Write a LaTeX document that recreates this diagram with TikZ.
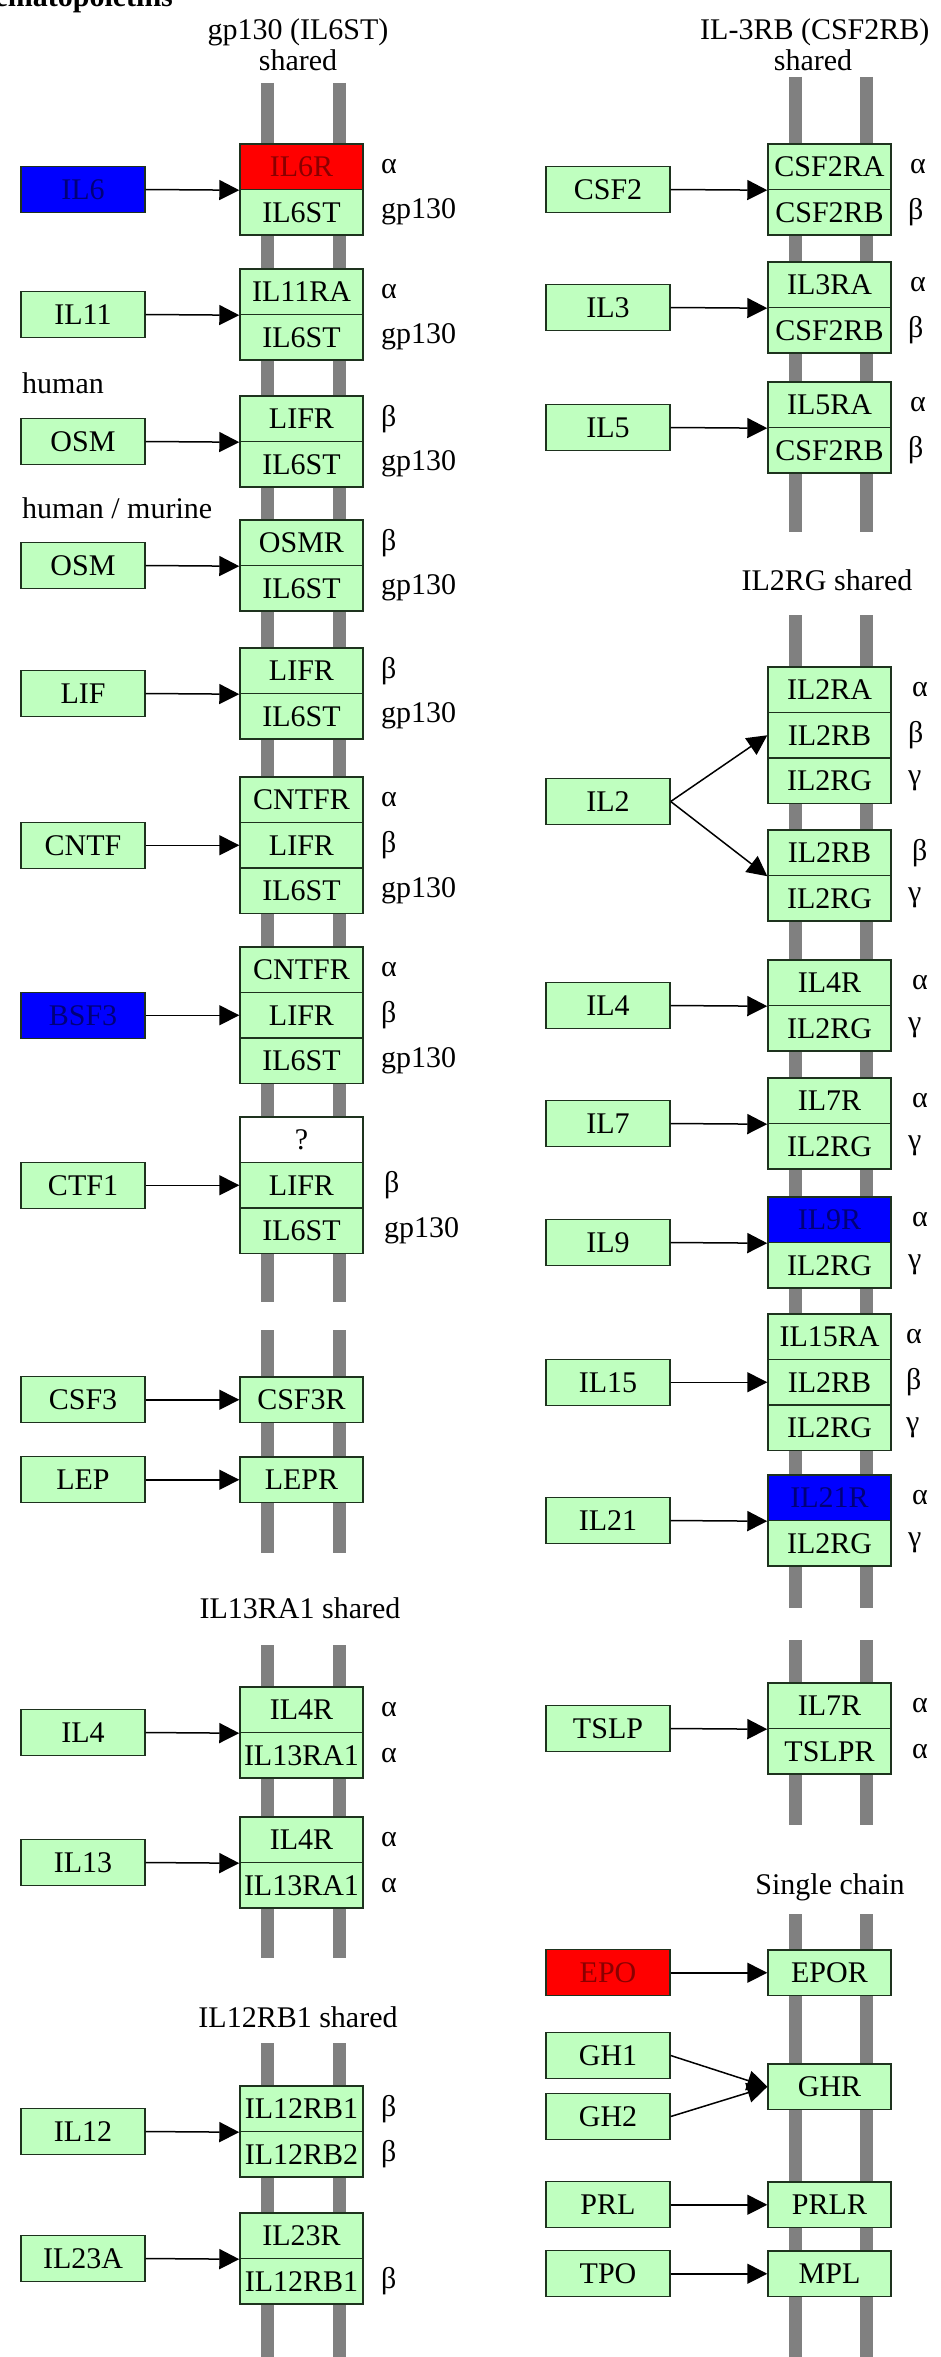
\documentclass[tikz,border=0pt]{standalone}
\usepackage{fontspec}
\setmainfont{Liberation Serif}
\usetikzlibrary{arrows.meta}
\definecolor{kgreen}{HTML}{BFFFBF}
\definecolor{kborder}{HTML}{1E321E}
\definecolor{kred}{HTML}{FF0000}
\definecolor{kredtxt}{HTML}{8A0000}
\definecolor{kblue}{HTML}{0000FF}
\definecolor{kbluetxt}{HTML}{00007A}
\definecolor{kbar}{HTML}{808080}
\begin{document}
\begin{tikzpicture}[x=1pt,y=-1pt,
  box/.style={draw=kborder, line width=1.4pt, fill=kgreen, minimum width=123pt, minimum height=45.5pt, inner sep=0pt, font=\fontsize{30}{30}\selectfont, text=black},
  lig/.style={box, minimum width=124pt, minimum height=46pt},
  redbox/.style={fill=kred, text=kredtxt},
  bluebox/.style={fill=kblue, text=kbluetxt},
  whitebox/.style={fill=white},
  glab/.style={anchor=west, inner sep=0pt, font=\fontsize{30}{30}\selectfont},
  sec/.style={inner sep=0pt, font=\fontsize{30}{30}\selectfont},
  bar/.style={draw=kbar, line width=13pt},
  arr/.style={line width=1.5pt, -{Triangle[length=20pt,width=20pt]}},
]
\useasboundingbox (0,0) rectangle (940,2357);
\fill[white] (0,0) rectangle (940,2357);
\begin{scope}
\clip (0,0) rectangle (940,2357);
\node[anchor=base west, inner sep=0pt, font=\fontsize{30}{30}\selectfont\bfseries] (title) at (-29,7) {Hematopoietins};
\end{scope}

% gray bars
\coordinate (lb1) at (267.5,83);  \coordinate (lb1e) at (267.5,1302);
\coordinate (lb2) at (267.5,1330); \coordinate (lb2e) at (267.5,1553);
\coordinate (lb3) at (267.5,1645); \coordinate (lb3e) at (267.5,1958);
\coordinate (lb4) at (267.5,2043); \coordinate (lb4e) at (267.5,2357);
\coordinate (lc1) at (339.5,83);  \coordinate (lc1e) at (339.5,1302);
\coordinate (lc2) at (339.5,1330); \coordinate (lc2e) at (339.5,1553);
\coordinate (lc3) at (339.5,1645); \coordinate (lc3e) at (339.5,1958);
\coordinate (lc4) at (339.5,2043); \coordinate (lc4e) at (339.5,2357);
\coordinate (rb1) at (795,77);  \coordinate (rb1e) at (795,532);
\coordinate (rb2) at (795,615); \coordinate (rb2e) at (795,1608);
\coordinate (rb3) at (795,1640); \coordinate (rb3e) at (795,1825);
\coordinate (rb4) at (795,1914); \coordinate (rb4e) at (795,2357);
\coordinate (rc1) at (866.5,77);  \coordinate (rc1e) at (866.5,532);
\coordinate (rc2) at (866.5,615); \coordinate (rc2e) at (866.5,1608);
\coordinate (rc3) at (866.5,1640); \coordinate (rc3e) at (866.5,1825);
\coordinate (rc4) at (866.5,1914); \coordinate (rc4e) at (866.5,2357);
\foreach \a in {lb,lc,rb,rc}{\foreach \i in {1,2,3,4}{\draw[bar] (\a\i) -- (\a\i e);}}

% section labels
\node[sec] (s1) at (298,32) {gp130 (IL6ST)};
\node[sec] (s1b) at (298,60) {shared};
\node[sec,anchor=west] (s2) at (700,32) {IL-3RB (CSF2RB)};
\node[sec] (s2b) at (813,60) {shared};
\node[sec,anchor=west] (hum) at (22,383) {human};
\node[sec,anchor=west] (hummur) at (22,508) {human / murine};
\node[sec] (s3) at (827,580) {IL2RG shared};
\node[sec] (s4) at (300,1608) {IL13RA1 shared};
\node[sec] (s5) at (298,2017) {IL12RB1 shared};
\node[sec] (s6) at (830,1887) {Single chain};

% ---------- left column receptors ----------
\node[box,redbox] (L1a) at (301.5,166.75) {IL6R};
\node[box] (L1b) at (301.5,212.25) {IL6ST};
\node[box] (L2a) at (301.5,291.75) {IL11RA};
\node[box] (L2b) at (301.5,337.25) {IL6ST};
\node[box] (L3a) at (301.5,418.75) {LIFR};
\node[box] (L3b) at (301.5,464.25) {IL6ST};
\node[box] (L4a) at (301.5,542.75) {OSMR};
\node[box] (L4b) at (301.5,588.25) {IL6ST};
\node[box] (L5a) at (301.5,670.75) {LIFR};
\node[box] (L5b) at (301.5,716.25) {IL6ST};
\node[box] (L6a) at (301.5,799.75) {CNTFR};
\node[box] (L6b) at (301.5,845.25) {LIFR};
\node[box] (L6c) at (301.5,890.75) {IL6ST};
\node[box] (L7a) at (301.5,969.75) {CNTFR};
\node[box] (L7b) at (301.5,1015.25) {LIFR};
\node[box] (L7c) at (301.5,1060.75) {IL6ST};
\node[box,whitebox] (L8a) at (301.5,1139.75) {?};
\node[box] (L8b) at (301.5,1185.25) {LIFR};
\node[box] (L8c) at (301.5,1230.75) {IL6ST};
\node[box] (L9) at (301.5,1399.75) {CSF3R};
\node[box] (L10) at (301.5,1479.75) {LEPR};
\node[box] (L11a) at (301.5,1709.75) {IL4R};
\node[box] (L11b) at (301.5,1755.25) {IL13RA1};
\node[box] (L12a) at (301.5,1839.75) {IL4R};
\node[box] (L12b) at (301.5,1885.25) {IL13RA1};
\node[box] (L13a) at (301.5,2108.75) {IL12RB1};
\node[box] (L13b) at (301.5,2154.25) {IL12RB2};
\node[box] (L14a) at (301.5,2235.75) {IL23R};
\node[box] (L14b) at (301.5,2281.25) {IL12RB1};

% left greek labels
\node[glab] (gL1a) at (381,166.75) {α};
\node[glab] (gL1b) at (381,212.25) {gp130};
\node[glab] (gL2a) at (381,291.75) {α};
\node[glab] (gL2b) at (381,337.25) {gp130};
\node[glab] (gL3a) at (381,418.75) {β};
\node[glab] (gL3b) at (381,464.25) {gp130};
\node[glab] (gL4a) at (381,542.75) {β};
\node[glab] (gL4b) at (381,588.25) {gp130};
\node[glab] (gL5a) at (381,670.75) {β};
\node[glab] (gL5b) at (381,716.25) {gp130};
\node[glab] (gL6a) at (381,799.75) {α};
\node[glab] (gL6b) at (381,845.25) {β};
\node[glab] (gL6c) at (381,890.75) {gp130};
\node[glab] (gL7a) at (381,969.75) {α};
\node[glab] (gL7b) at (381,1015.25) {β};
\node[glab] (gL7c) at (381,1060.75) {gp130};
\node[glab] (gL8b) at (384,1185.25) {β};
\node[glab] (gL8c) at (384,1230.75) {gp130};
\node[glab] (gL11a) at (381,1709.75) {α};
\node[glab] (gL11b) at (381,1755.25) {α};
\node[glab] (gL12a) at (381,1839.75) {α};
\node[glab] (gL12b) at (381,1885.25) {α};
\node[glab] (gL13a) at (381,2108.75) {β};
\node[glab] (gL13b) at (381,2154.25) {β};
\node[glab] (gL14b) at (381,2281.25) {β};

% left ligands
\node[lig,bluebox] (IL6) at (83,189.5) {IL6};
\node[lig] (IL11) at (83,314.5) {IL11};
\node[lig] (OSMa) at (83,441.5) {OSM};
\node[lig] (OSMb) at (83,565.5) {OSM};
\node[lig] (LIF) at (83,693.5) {LIF};
\node[lig] (CNTF) at (83,845.25) {CNTF};
\node[lig,bluebox] (BSF3) at (83,1015.25) {BSF3};
\node[lig] (CTF1) at (83,1185.25) {CTF1};
\node[lig] (CSF3) at (83,1399.75) {CSF3};
\node[lig] (LEP) at (83,1479.75) {LEP};
\node[lig] (IL4a) at (83,1732.5) {IL4};
\node[lig] (IL13) at (83,1862.5) {IL13};
\node[lig] (IL12) at (83,2131.5) {IL12};
\node[lig] (IL23A) at (83,2258.5) {IL23A};

% left arrows
\draw[arr] (IL6.east) -- (L1a.south west);
\draw[arr] (IL11.east) -- (L2a.south west);
\draw[arr] (OSMa.east) -- (L3a.south west);
\draw[arr] (OSMb.east) -- (L4a.south west);
\draw[arr] (LIF.east) -- (L5a.south west);
\draw[arr] (CNTF.east) -- (L6b.west);
\draw[arr] (BSF3.east) -- (L7b.west);
\draw[arr] (CTF1.east) -- (L8b.west);
\draw[arr] (CSF3.east) -- (L9.west);
\draw[arr] (LEP.east) -- (L10.west);
\draw[arr] (IL4a.east) -- (L11a.south west);
\draw[arr] (IL13.east) -- (L12a.south west);
\draw[arr] (IL12.east) -- (L13a.south west);
\draw[arr] (IL23A.east) -- (L14a.south west);

% ---------- right column receptors ----------
\node[box] (R1a) at (829.5,166.75) {CSF2RA};
\node[box] (R1b) at (829.5,212.25) {CSF2RB};
\node[box] (R2a) at (829.5,284.75) {IL3RA};
\node[box] (R2b) at (829.5,330.25) {CSF2RB};
\node[box] (R3a) at (829.5,404.75) {IL5RA};
\node[box] (R3b) at (829.5,450.25) {CSF2RB};
\node[box] (R4a) at (829.5,689.75) {IL2RA};
\node[box] (R4b) at (829.5,735.25) {IL2RB};
\node[box] (R4c) at (829.5,780.75) {IL2RG};
\node[box] (R5a) at (829.5,852.75) {IL2RB};
\node[box] (R5b) at (829.5,898.25) {IL2RG};
\node[box] (R6a) at (829.5,982.75) {IL4R};
\node[box] (R6b) at (829.5,1028.25) {IL2RG};
\node[box] (R7a) at (829.5,1100.75) {IL7R};
\node[box] (R7b) at (829.5,1146.25) {IL2RG};
\node[box,bluebox] (R8a) at (829.5,1219.75) {IL9R};
\node[box] (R8b) at (829.5,1265.25) {IL2RG};
\node[box] (R9a) at (829.5,1336.75) {IL15RA};
\node[box] (R9b) at (829.5,1382.25) {IL2RB};
\node[box] (R9c) at (829.5,1427.75) {IL2RG};
\node[box,bluebox] (R10a) at (829.5,1497.75) {IL21R};
\node[box] (R10b) at (829.5,1543.25) {IL2RG};
\node[box] (R11a) at (829.5,1705.75) {IL7R};
\node[box] (R11b) at (829.5,1751.25) {TSLPR};
\node[box] (R12) at (829.5,1972.75) {EPOR};
\node[box] (R13) at (829.5,2086.75) {GHR};
\node[box] (R14) at (829.5,2204.75) {PRLR};
\node[box] (R15) at (829.5,2273.75) {MPL};

% right greek labels
\node[glab] (gR1a) at (910,166.75) {α};
\node[glab] (gR1b) at (908,212.25) {β};
\node[glab] (gR2a) at (910,284.75) {α};
\node[glab] (gR2b) at (908,330.25) {β};
\node[glab] (gR3a) at (910,404.75) {α};
\node[glab] (gR3b) at (908,450.25) {β};
\node[glab] (gR4a) at (912,689.75) {α};
\node[glab] (gR4b) at (908,735.25) {β};
\node[glab] (gR4c) at (908,780.75) {γ};
\node[glab] (gR5a) at (912,852.75) {β};
\node[glab] (gR5b) at (908,898.25) {γ};
\node[glab] (gR6a) at (912,982.75) {α};
\node[glab] (gR6b) at (908,1028.25) {γ};
\node[glab] (gR7a) at (912,1100.75) {α};
\node[glab] (gR7b) at (908,1146.25) {γ};
\node[glab] (gR8a) at (912,1219.75) {α};
\node[glab] (gR8b) at (908,1265.25) {γ};
\node[glab] (gR9a) at (906,1336.75) {α};
\node[glab] (gR9b) at (906,1382.25) {β};
\node[glab] (gR9c) at (906,1427.75) {γ};
\node[glab] (gR10a) at (912,1497.75) {α};
\node[glab] (gR10b) at (908,1543.25) {γ};
\node[glab] (gR11a) at (912,1705.75) {α};
\node[glab] (gR11b) at (912,1751.25) {α};

% right ligands
\node[lig] (CSF2) at (608,189.5) {CSF2};
\node[lig] (IL3) at (608,307.5) {IL3};
\node[lig] (IL5) at (608,427.5) {IL5};
\node[lig] (IL2) at (608,801.5) {IL2};
\node[lig] (IL4b) at (608,1005.5) {IL4};
\node[lig] (IL7) at (608,1123.5) {IL7};
\node[lig] (IL9) at (608,1242.5) {IL9};
\node[lig] (IL15) at (608,1382.25) {IL15};
\node[lig] (IL21) at (608,1520.5) {IL21};
\node[lig] (TSLP) at (608,1728.5) {TSLP};
\node[lig,redbox] (EPO) at (608,1972.75) {EPO};
\node[lig] (GH1) at (608,2055.5) {GH1};
\node[lig] (GH2) at (608,2116.5) {GH2};
\node[lig] (PRL) at (608,2204.75) {PRL};
\node[lig] (TPO) at (608,2273.75) {TPO};

% right arrows
\draw[arr] (CSF2.east) -- (R1a.south west);
\draw[arr] (IL3.east) -- (R2a.south west);
\draw[arr] (IL5.east) -- (R3a.south west);
\draw[arr] (IL2.east) -- (R4b.west);
\draw[arr] (IL2.east) -- (R5a.south west);
\draw[arr] (IL4b.east) -- (R6a.south west);
\draw[arr] (IL7.east) -- (R7a.south west);
\draw[arr] (IL9.east) -- (R8a.south west);
\draw[arr] (IL15.east) -- (R9b.west);
\draw[arr] (IL21.east) -- (R10a.south west);
\draw[arr] (TSLP.east) -- (R11a.south west);
\draw[arr] (EPO.east) -- (R12.west);
\draw[arr] (GH1.east) -- (R13.west);
\draw[arr] (GH2.east) -- (R13.west);
\draw[arr] (PRL.east) -- (R14.west);
\draw[arr] (TPO.east) -- (R15.west);
\end{tikzpicture}
\end{document}
